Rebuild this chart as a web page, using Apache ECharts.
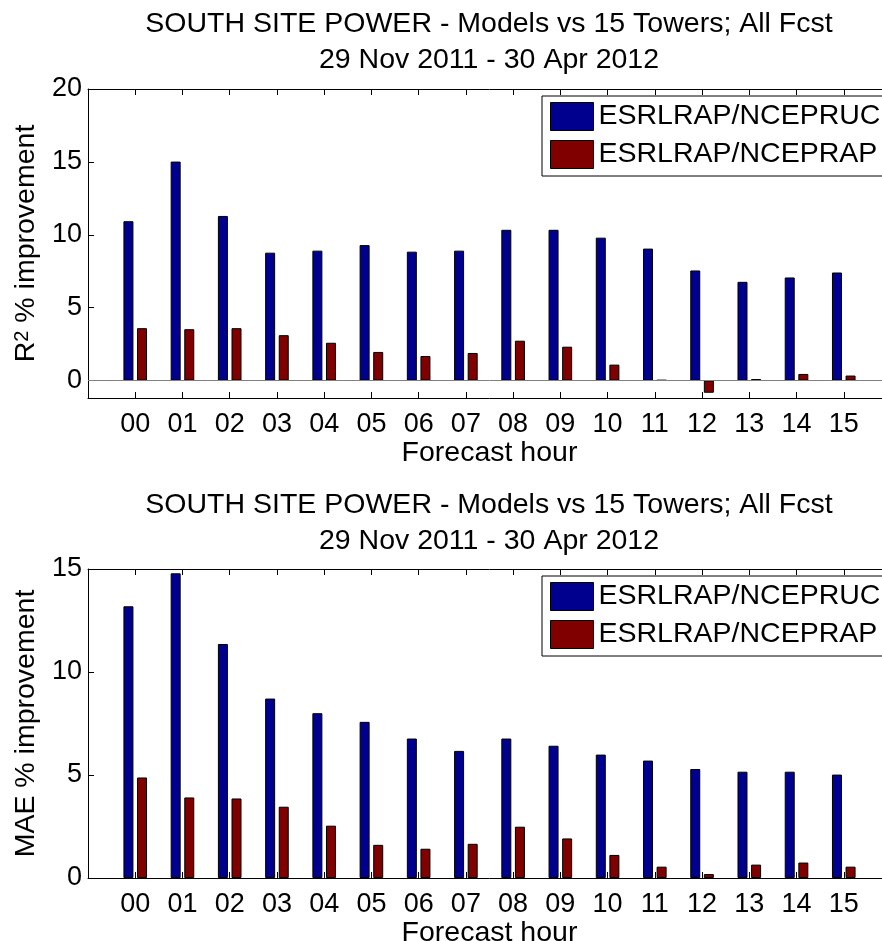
<!DOCTYPE html>
<html>
<head>
<meta charset="utf-8">
<script src="https://cdn.jsdelivr.net/npm/echarts@6/dist/echarts.min.js"></script>
<style>
html,body{margin:0;padding:0;background:#fff;overflow:hidden;}
#main{width:900px;height:941px;}
</style>
</head>
<body>
<div id="main"></div>
<script>
// ---- data ----
const hours = ['00','01','02','03','04','05','06','07','08','09','10','11','12','13','14','15'];
const seriesNames = ['ESRLRAP/NCEPRUC', 'ESRLRAP/NCEPRAP'];
const r2Ruc  = [10.93, 15.02, 11.29, 8.77, 8.91, 9.29, 8.84, 8.91, 10.34, 10.34, 9.80, 9.05, 7.55, 6.77, 7.07, 7.41];
const r2Rap  = [3.59, 3.52, 3.59, 3.11, 2.59, 1.96, 1.68, 1.89, 2.73, 2.32, 1.09, 0.03, -0.84, 0.10, 0.45, 0.34];
const maeRuc = [13.19, 14.79, 11.36, 8.71, 8.00, 7.58, 6.77, 6.17, 6.77, 6.42, 5.99, 5.70, 5.29, 5.16, 5.16, 5.02];
const maeRap = [4.88, 3.91, 3.86, 3.46, 2.54, 1.61, 1.42, 1.66, 2.49, 1.92, 1.12, 0.55, 0.19, 0.65, 0.75, 0.55];
const yTicksTop = [0, 5, 10, 15, 20];
const yTicksBottom = [0, 5, 10, 15];
const titleText = 'SOUTH SITE POWER - Models vs 15 Towers; All Fcst\n29 Nov 2011 - 30 Apr 2012';
const xName = 'Forecast hour';
const yNameTop = 'R{sup|2} % improvement';
const yNameBottom = 'MAE % improvement';

// ---- styling ----
const FONT = '"Liberation Sans", Arial, Helvetica, sans-serif';
const FS = 28.5;
const FS_TICK = 27;
const BLUE = '#00008F';
const RED = '#800000';

const toXY = arr => arr.map((v, i) => [i, v]);

function xAxes(grid) {
  const common = {
    type: 'value', gridIndex: grid, min: -1, max: hours.length, interval: 1,
    splitLine: {show: false},
    axisLine: {show: true, onZero: false, lineStyle: {color: '#000', width: 1}},
    axisTick: {show: true, inside: true, length: 6, lineStyle: {color: '#000'}}
  };
  return [
    Object.assign({}, common, {
      position: 'bottom',
      name: xName, nameLocation: 'middle', nameGap: 40,
      nameTextStyle: {fontSize: FS, fontFamily: FONT, color: '#000'},
      axisLabel: {
        show: true, margin: 13, fontSize: FS_TICK, fontFamily: FONT, color: '#000',
        formatter: v => (v >= 0 && v < hours.length) ? hours[v] : ''
      }
    }),
    Object.assign({}, common, {
      position: 'top',
      axisLabel: {show: false}
    })
  ];
}

function yAxis(grid, min, max, ticks, name, rich) {
  return {
    type: 'value', gridIndex: grid, min: min, max: max,
    position: 'left',
    name: name, nameLocation: 'middle', nameGap: 47,
    nameTextStyle: {fontSize: FS, fontFamily: FONT, color: '#000', rich: rich},
    splitLine: {show: false},
    axisLine: {show: true, onZero: false, lineStyle: {color: '#000', width: 1}},
    axisTick: {show: true, inside: true, length: 6, customValues: ticks, lineStyle: {color: '#000'}},
    axisLabel: {show: true, margin: 6, fontSize: FS_TICK, fontFamily: FONT, color: '#000', customValues: ticks}
  };
}

function barSeries(name, data, color, grid, withBase) {
  const s = {
    name: name, type: 'bar',
    xAxisIndex: grid * 2, yAxisIndex: grid,
    data: toXY(data),
    barWidth: 10, barGap: '36%',
    itemStyle: {color: color, borderColor: '#000', borderWidth: 1},
    emphasis: {disabled: true}
  };
  if (withBase) {
    s.markLine = {
      silent: true, symbol: 'none', label: {show: false},
      lineStyle: {color: '#808080', type: 'solid', width: 1},
      data: [{yAxis: 0}]
    };
  }
  return s;
}

function legend(top) {
  return {
    left: 542, top: top, orient: 'vertical',
    icon: 'rect',
    itemWidth: 43, itemHeight: 28, itemGap: 9,
    padding: [6, 8, 7, 8],
    backgroundColor: '#fff', borderColor: '#000', borderWidth: 1,
    itemStyle: {borderColor: '#000', borderWidth: 1},
    textStyle: {fontSize: FS, fontFamily: FONT, color: '#000', lineHeight: 28},
    data: seriesNames
  };
}

function title(top) {
  return {
    text: titleText, left: 489, top: top, textAlign: 'center', padding: 0,
    textStyle: {fontSize: FS, fontFamily: FONT, fontWeight: 'normal', color: '#000', lineHeight: 36}
  };
}

const chart = echarts.init(document.getElementById('main'), null, {renderer: 'canvas'});
chart.setOption({
  animation: false,
  backgroundColor: '#fff',
  title: [title(6), title(487)],
  legend: [legend(96), legend(576)],
  grid: [
    {left: 88, top: 89, right: 9, height: 309, containLabel: false, outerBoundsMode: 'none'},
    {left: 88, top: 569, right: 9, height: 309, containLabel: false, outerBoundsMode: 'none'}
  ],
  xAxis: xAxes(0).concat(xAxes(1)),
  yAxis: [
    yAxis(0, -1.2, 20, yTicksTop, yNameTop, {sup: {fontSize: 20, fontFamily: FONT, color: '#000', verticalAlign: 'top'}}),
    yAxis(1, 0, 15, yTicksBottom, yNameBottom, {})
  ],
  series: [
    barSeries(seriesNames[0], r2Ruc, BLUE, 0, true),
    barSeries(seriesNames[1], r2Rap, RED, 0, false),
    barSeries(seriesNames[0], maeRuc, BLUE, 1, false),
    barSeries(seriesNames[1], maeRap, RED, 1, false)
  ]
});
</script>
</body>
</html>
